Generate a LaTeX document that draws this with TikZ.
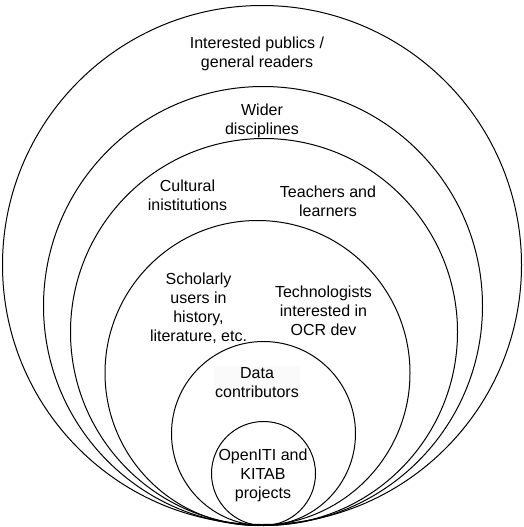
\documentclass[tikz,border=0pt]{standalone}
\usepackage{fontspec}
\setmainfont{Liberation Sans}
\usepackage{tikz}
\usetikzlibrary{positioning}

\begin{document}
\begin{tikzpicture}[x=1pt,y=-1pt,
  ring/.style={circle,draw,line width=1pt,inner sep=0pt},
  lbl/.style={align=center,inner sep=1pt,font=\fontsize{16}{19}\selectfont},
  font=\fontsize{16}{19}\selectfont]
\useasboundingbox (0,0) rectangle (523,527);

% nested audience rings, all touching at the bottom
\node[ring,minimum size=519pt] (pubring) at (262,265) {};
\node[ring,minimum size=439pt] (widring) at (263,306) {};
\node[ring,minimum size=387pt] (culring) at (264,332) {};
\node[ring,minimum size=305pt] (schring) at (257.5,373) {};
\node[ring,minimum size=184pt] (datring) at (263.5,433.5) {};
\node[ring,minimum size=104pt] (oitring) at (263.5,473.5) {};

\node[lbl] (pub) at (257,54) {Interested publics /\\ general readers};
\node[lbl] (wid) at (262,121) {Wider\\ disciplines};
\node[lbl] (cul) at (187.5,195) {Cultural\\ inistitutions};
\node[lbl] (tea) at (328,201) {Teachers and\\ learners};
\node[lbl] (sch) at (198.5,308) {Scholarly\\ users in\\ history,\\ literature, etc.};
\node[lbl] (tec) at (323.5,311) {Technologists\\ interested in\\ OCR dev};
\node[lbl,fill=black!2] (dat) at (257,382.5) {Data\\ contributors};
\node[lbl] (oit) at (263,475.5) {OpenITI and\\ KITAB\\ projects};
\end{tikzpicture}
\end{document}
